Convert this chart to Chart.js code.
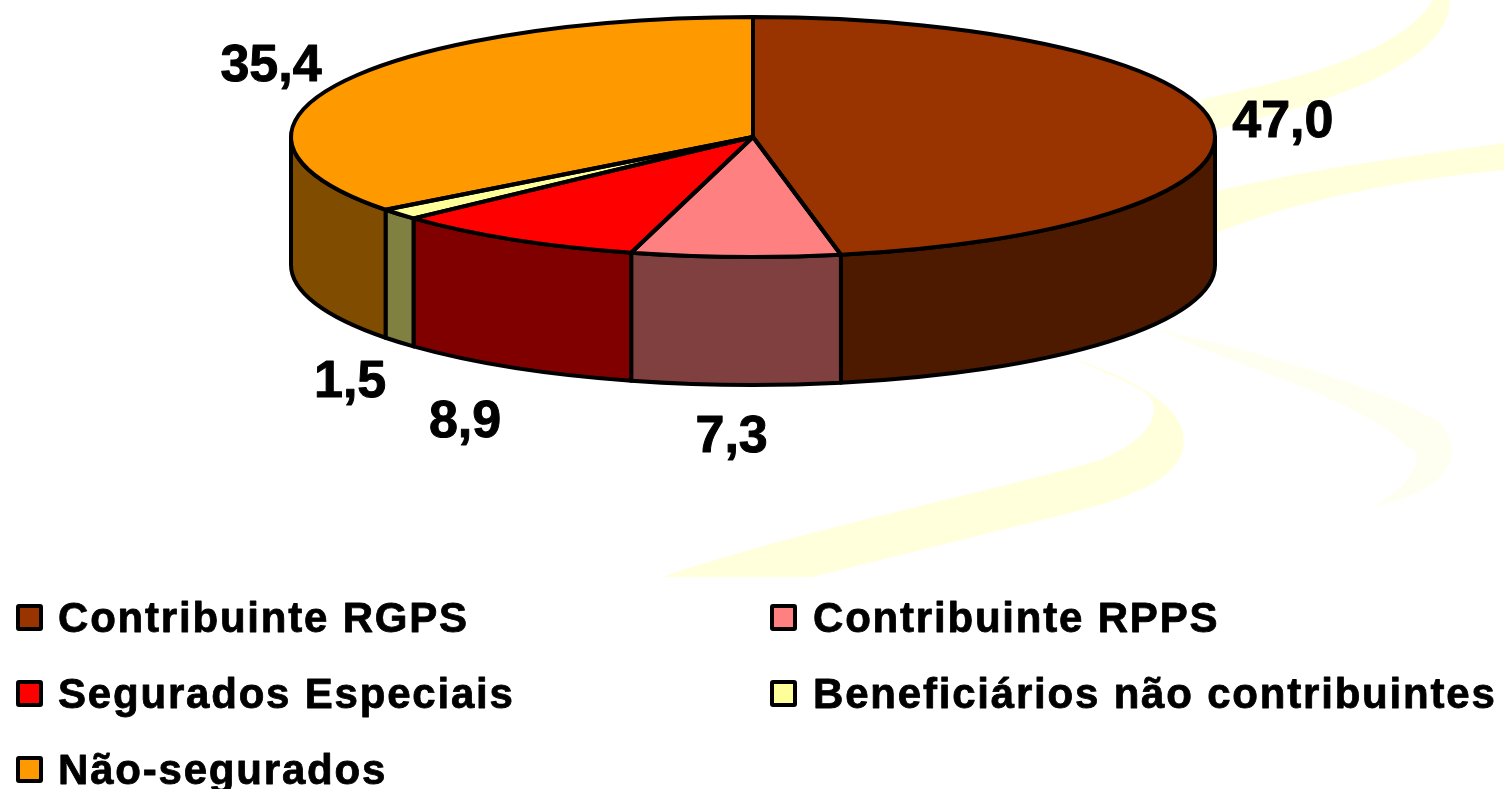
<!DOCTYPE html>
<html lang="pt">
<head>
<meta charset="utf-8">
<title>Pie</title>
<script src="https://cdn.jsdelivr.net/npm/chart.js@4"></script>
<style>html,body{margin:0;padding:0;background:#fff;overflow:hidden}canvas{display:block}</style>
</head>
<body>
<canvas id="c" width="1504" height="789"></canvas>
<script>
const categories = ['Contribuinte RGPS','Contribuinte RPPS','Segurados Especiais','Beneficiários não contribuintes','Não-segurados'];
const values = [47.0, 7.3, 8.9, 1.5, 35.4];
const valueLabels = ['47,0','7,3','8,9','1,5','35,4'];
const topColors = ['#993300','#FF8080','#FF0000','#FFFF99','#FF9900'];
const wallColors = ['#4D1A00','#804040','#800000','#808040','#804D00'];
const labelOffsets = [[70,-8],[-4,176],[-48,178],[-49,164],[-68,-22]];
const legendRows = [[0,1],[2,3],[4]];

const SQUASH = 120/462, DEPTH = 128, LINE = 4;
const swirlFill = '#FFFFDC', swirlFaint = '#FFFFF1';

function ry(a){return a.outerRadius*SQUASH;}

const pie3d = {
  id:'pie3d',
  beforeDatasetsDraw(chart){
    const ctx = chart.ctx;
    // watermark swirls
    ctx.save();
    ctx.fillStyle = swirlFaint;
    ctx.beginPath();
    ctx.moveTo(1157,330);
    ctx.bezierCurveTo(1260,350,1400,395,1440,423);
    ctx.bezierCurveTo(1465,450,1455,490,1373,507);
    ctx.bezierCurveTo(1420,480,1425,450,1407,447);
    ctx.bezierCurveTo(1380,415,1300,385,1223,357);
    ctx.closePath();ctx.fill();
    ctx.fillStyle = swirlFill;
    ctx.beginPath();
    ctx.moveTo(1200,100);
    ctx.bezierCurveTo(1290,80,1400,55,1433,0);
    ctx.lineTo(1450,0);
    ctx.bezierCurveTo(1450,70,1300,110,1213,130);
    ctx.closePath();ctx.fill();
    ctx.beginPath();
    ctx.moveTo(1200,195);
    ctx.bezierCurveTo(1300,170,1420,155,1504,143);
    ctx.lineTo(1504,170);
    ctx.bezierCurveTo(1400,180,1290,200,1200,240);
    ctx.closePath();ctx.fill();
    ctx.beginPath();
    ctx.moveTo(1068,357);
    ctx.bezierCurveTo(1110,370,1184,400,1184,440);
    ctx.bezierCurveTo(1184,480,1130,500,1029,523);
    ctx.lineTo(812,577);
    ctx.lineTo(662,577);
    ctx.bezierCurveTo(800,530,1000,490,1100,460);
    ctx.bezierCurveTo(1150,440,1165,410,1146,393);
    ctx.bezierCurveTo(1125,380,1090,365,1068,357);
    ctx.closePath();ctx.fill();
    ctx.restore();

    // extruded walls on the front half of each slice
    const arcs = chart.getDatasetMeta(0).data;
    arcs.forEach((a,i)=>{
      const s = Math.max(a.startAngle,0), e = Math.min(a.endAngle,Math.PI);
      if(e>s){
        ctx.beginPath();
        ctx.ellipse(a.x,a.y,a.outerRadius,ry(a),0,s,e,false);
        ctx.ellipse(a.x,a.y+DEPTH,a.outerRadius,ry(a),0,e,s,true);
        ctx.closePath();
        ctx.fillStyle = wallColors[i];
        ctx.fill();
        ctx.lineWidth = LINE;ctx.lineJoin='round';ctx.strokeStyle='#000';
        ctx.stroke();
      }
    });
    // flatten the library's own arcs into the tilted top face
    const a0 = arcs[0];
    ctx.save();
    ctx.translate(a0.x,a0.y);ctx.scale(1,SQUASH);ctx.translate(-a0.x,-a0.y);
  },
  afterDatasetsDraw(chart){
    const ctx = chart.ctx;
    ctx.restore();
    const arcs = chart.getDatasetMeta(0).data;
    ctx.save();
    ctx.lineWidth = LINE;ctx.lineJoin='round';ctx.strokeStyle='#000';
    arcs.forEach(a=>{
      ctx.beginPath();
      ctx.moveTo(a.x,a.y);
      ctx.ellipse(a.x,a.y,a.outerRadius,ry(a),0,a.startAngle,a.endAngle,false);
      ctx.closePath();
      ctx.stroke();
    });
    // value labels
    ctx.fillStyle='#000';
    ctx.font='bold 52px "Liberation Sans"';
    ctx.textAlign='center';ctx.textBaseline='alphabetic';
    ctx.lineWidth=1;
    arcs.forEach((a,i)=>{
      const m=(a.startAngle+a.endAngle)/2;
      const px=a.x+Math.cos(m)*a.outerRadius, py=a.y+Math.sin(m)*ry(a);
      const tx=px+labelOffsets[i][0], ty=py+labelOffsets[i][1]+19;
      ctx.fillText(valueLabels[i],tx,ty);
      ctx.strokeText(valueLabels[i],tx,ty);
    });
    // legend
    const colMarker=[16,770], colText=[58,813], rowBase=[632,708,784];
    ctx.font='bold 42px "Liberation Sans"';
    ctx.textAlign='left';
    ctx.letterSpacing='1.8px';
    legendRows.forEach((row,r)=>row.forEach((idx,c)=>{
      ctx.beginPath();
      ctx.roundRect(colMarker[c]+2,rowBase[r]-26,23,23,1);
      ctx.fillStyle=topColors[idx];ctx.fill();
      ctx.lineWidth=4;ctx.stroke();
      ctx.fillStyle='#000';
      ctx.fillText(categories[idx],colText[c],rowBase[r]);
      ctx.lineWidth=0.8;
      ctx.strokeText(categories[idx],colText[c],rowBase[r]);
    }));
    ctx.restore();
  }
};

new Chart(document.getElementById('c'),{
  type:'pie',
  data:{labels:categories,datasets:[{data:values,backgroundColor:topColors,borderWidth:0,clip:false}]},
  options:{
    responsive:false,animation:false,
    radius:462,
    layout:{padding:{left:2,right:0,top:0,bottom:515}},
    plugins:{legend:{display:false},tooltip:{enabled:false},title:{display:false}}
  },
  plugins:[pie3d]
});
</script>
</body>
</html>
